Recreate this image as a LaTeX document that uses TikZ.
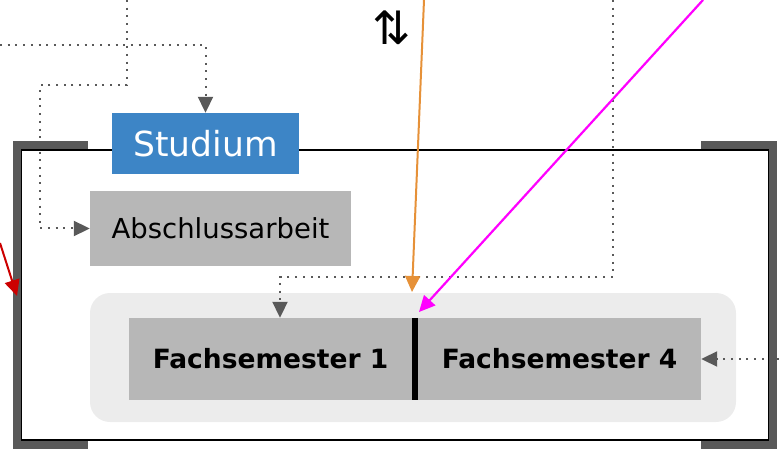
\documentclass[tikz,border=0pt]{standalone}
\usepackage{fontspec}
\setmainfont{DejaVu Sans}
\usetikzlibrary{arrows.meta}
\definecolor{studblue}{HTML}{3D85C6}
\definecolor{boxgray}{HTML}{B7B7B7}
\definecolor{lanegray}{HTML}{ECECEC}
\definecolor{linkgray}{HTML}{595959}
\definecolor{linkorange}{HTML}{E69138}
\definecolor{linkmagenta}{HTML}{FF00FF}
\definecolor{linkred}{HTML}{CC0000}
\tikzset{
  tri/.style={-{Triangle[width=15pt,length=16pt]}},
  dotlink/.style={tri, draw=linkgray, line width=2pt, dash pattern=on 2pt off 5.7pt},
  bracket/.style={draw=linkgray, line width=8pt, miter limit=10},
  graybox/.style={fill=boxgray, inner sep=0pt, text=black},
  semester/.style={graybox, minimum width=283pt, minimum height=82pt, font=\fontsize{26.5}{30}\selectfont\bfseries},
}
\begin{document}
\begin{tikzpicture}[x=1pt, y=-1pt]
\useasboundingbox (0,0) rectangle (779,449);

% outer frame with corner brackets
\draw[line width=1.8pt] (21,150) rectangle (769,440);
\draw[bracket] (88,145) -- (17,145) -- (17,445) -- (88,445);
\draw[bracket] (701,145) -- (773,145) -- (773,445) -- (701,445);

% nodes
\node[fill=studblue, text=white, inner sep=0pt, minimum width=187pt, minimum height=61pt,
      font=\fontsize{34.5}{38}\selectfont] (stud) at (205.5,143.5) {Studium};
\node[graybox, minimum width=261pt, minimum height=75pt,
      font=\fontsize{27.5}{30}\selectfont] (abs) at (220.5,228.5) {Abschlussarbeit};
\node[fill=lanegray, rounded corners=20pt, inner sep=0pt, minimum width=646pt,
      minimum height=129pt] (lane) at (413,357.5) {};
\node[semester] (fs1) at (270.5,359) {Fachsemester 1};
\node[semester] (fs4) at (559.5,359) {Fachsemester 4};
\draw[line width=6pt] (fs1.north east) ++(2.5,0) coordinate (divtop) -- (divtop |- fs1.south);

\node[font=\fontsize{46}{50}\selectfont] (swap) at (392,28) {⇅};

% dotted links
\coordinate (a0) at (127,0);
\coordinate (a1) at (40,85);
\draw[dotlink] (a0) |- (a1) |- (abs.west);

\coordinate (b0) at (0,45);
\draw[dotlink] (b0) -| (stud.north);

\coordinate (c0) at (613,0);
\coordinate (c1) at (280,277);
\draw[dotlink] (c0) |- (c1) -- (c1 |- fs1.north);

\coordinate (d0) at (779,359);
\draw[dotlink] (d0) -- (d0 -| fs4.east);

% coloured links
\coordinate (o0) at (424,0);
\coordinate (o1) at (412,292);
\draw[tri, draw=linkorange, line width=2pt] (o0) -- (o1);

\coordinate (m0) at (703,0);
\coordinate (m1) at (419,312);
\draw[tri, draw=linkmagenta, line width=2.2pt] (m0) -- (m1);

\coordinate (r0) at (0,243);
\coordinate (r1) at (17,296);
\draw[tri, draw=linkred, line width=2pt] (r0) -- (r1);
\end{tikzpicture}
\end{document}
